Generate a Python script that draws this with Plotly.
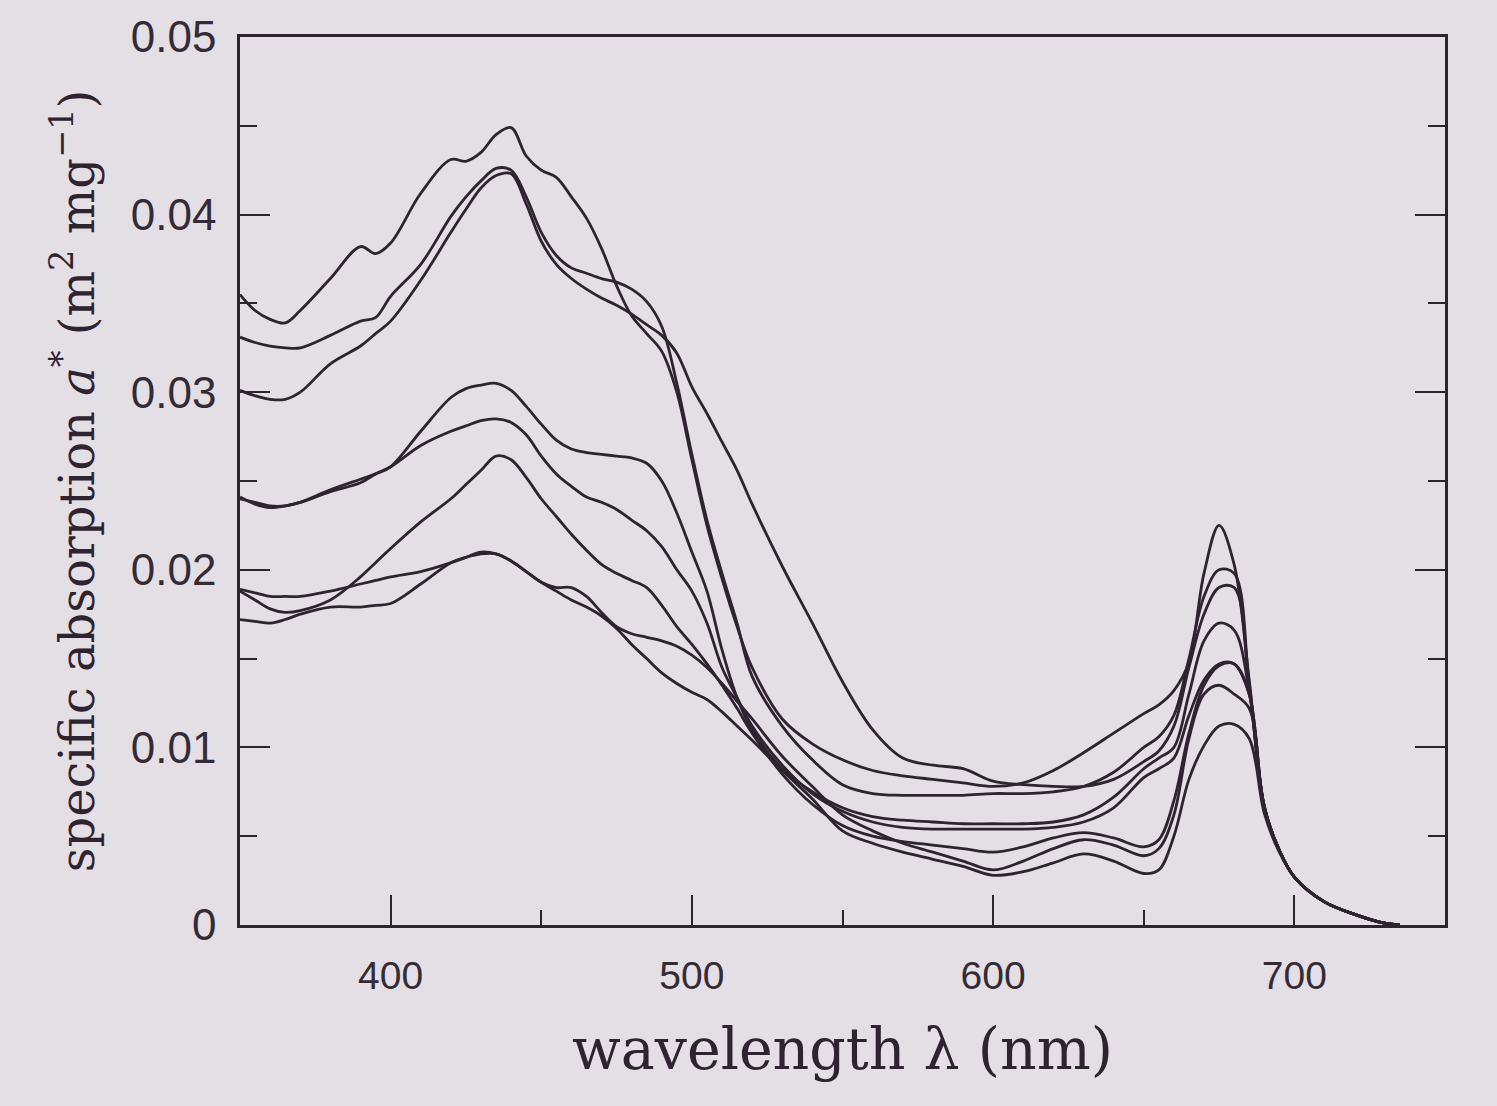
import plotly.graph_objects as go

# wavelength grid (nm)
wavelength = [350, 355, 360, 365, 370, 380, 390, 395, 400, 410, 420, 425, 430, 435,
              440, 445, 450, 455, 460, 465, 470, 475, 480, 485, 490, 495, 500, 505,
              510, 515, 520, 530, 540, 550, 560, 570, 580, 590, 600, 610, 620, 630,
              640, 650, 655, 660, 665, 670, 675, 680, 685, 690, 695, 700, 710, 720,
              730, 735]

# specific absorption a* (m^2 mg^-1), eight spectra
spec_a = [0.0355, 0.0346, 0.0341, 0.0339, 0.0346, 0.0364, 0.0382, 0.0378, 0.0384, 0.0412,
          0.0431, 0.0430, 0.0435, 0.0445, 0.0449, 0.0433, 0.0425, 0.0421, 0.0410, 0.0398,
          0.0381, 0.0360, 0.0343, 0.0333, 0.0323, 0.0300, 0.0262, 0.0225, 0.0195, 0.0168,
          0.0145, 0.0116, 0.0102, 0.0093, 0.0087, 0.0084, 0.0082, 0.0080, 0.0078, 0.0080,
          0.0087, 0.0097, 0.0108, 0.0119, 0.0124, 0.0132, 0.0148, 0.0198, 0.0225, 0.0203,
          0.0138, 0.0067, 0.0042, 0.0027, 0.0013, 0.0006, 0.0001, 0.0]

spec_b = [0.0331, 0.0328, 0.0326, 0.0325, 0.0325, 0.0332, 0.0340, 0.0342, 0.0354, 0.0372,
          0.0399, 0.0410, 0.0419, 0.0426, 0.0425, 0.0410, 0.0390, 0.0377, 0.0370, 0.0367,
          0.0364, 0.0362, 0.0358, 0.0351, 0.0337, 0.0305, 0.0265, 0.0228, 0.0198, 0.0170,
          0.0140, 0.0112, 0.0093, 0.0079, 0.0074, 0.0073, 0.0073, 0.0073, 0.0074, 0.0074,
          0.0075, 0.0078, 0.0086, 0.0100, 0.0106, 0.0118, 0.0150, 0.0185, 0.0200, 0.0198,
          0.0136, 0.0067, 0.0042, 0.0027, 0.0013, 0.0006, 0.0001, 0.0]

spec_c = [0.0301, 0.0298, 0.0296, 0.0296, 0.0300, 0.0316, 0.0326, 0.0333, 0.0340, 0.0363,
          0.0390, 0.0403, 0.0415, 0.0422, 0.0423, 0.0406, 0.0385, 0.0372, 0.0364, 0.0358,
          0.0353, 0.0349, 0.0344, 0.0338, 0.0332, 0.0322, 0.0303, 0.0288, 0.0272, 0.0256,
          0.0237, 0.0202, 0.0170, 0.0137, 0.0110, 0.0094, 0.0090, 0.0088, 0.0081, 0.0079,
          0.0078, 0.0078, 0.0082, 0.0092, 0.0098, 0.0112, 0.0145, 0.0175, 0.0190, 0.0190,
          0.0134, 0.0067, 0.0042, 0.0027, 0.0013, 0.0006, 0.0001, 0.0]

spec_d = [0.0241, 0.0237, 0.0235, 0.0236, 0.0238, 0.0245, 0.0251, 0.0254, 0.0258, 0.0278,
          0.0297, 0.0302, 0.0304, 0.0305, 0.0301, 0.0292, 0.0282, 0.0273, 0.0268, 0.0266,
          0.0265, 0.0264, 0.0263, 0.0260, 0.0250, 0.0232, 0.0210, 0.0188, 0.0155, 0.0128,
          0.0110, 0.0088, 0.0075, 0.0066, 0.0061, 0.0059, 0.0058, 0.0057, 0.0057, 0.0057,
          0.0058, 0.0062, 0.0072, 0.0088, 0.0094, 0.0100, 0.0130, 0.0160, 0.0170, 0.0166,
          0.0132, 0.0066, 0.0042, 0.0027, 0.0013, 0.0006, 0.0001, 0.0]

spec_e = [0.0240, 0.0238, 0.0236, 0.0236, 0.0238, 0.0244, 0.0249, 0.0254, 0.0258, 0.0270,
          0.0278, 0.0281, 0.0284, 0.0285, 0.0283, 0.0276, 0.0264, 0.0254, 0.0247, 0.0241,
          0.0238, 0.0234, 0.0228, 0.0222, 0.0213, 0.0200, 0.0188, 0.0170, 0.0145, 0.0128,
          0.0112, 0.0090, 0.0074, 0.0064, 0.0058, 0.0055, 0.0054, 0.0054, 0.0054, 0.0054,
          0.0055, 0.0058, 0.0066, 0.0083, 0.0088, 0.0094, 0.0118, 0.0138, 0.0147, 0.0147,
          0.0130, 0.0066, 0.0042, 0.0027, 0.0013, 0.0006, 0.0001, 0.0]

spec_f = [0.0188, 0.0183, 0.0178, 0.0176, 0.0177, 0.0183, 0.0196, 0.0204, 0.0212, 0.0227,
          0.0240, 0.0248, 0.0256, 0.0264, 0.0262, 0.0252, 0.0240, 0.0230, 0.0220, 0.0211,
          0.0203, 0.0198, 0.0194, 0.0190, 0.0180, 0.0168, 0.0158, 0.0147, 0.0135, 0.0122,
          0.0108, 0.0085, 0.0068, 0.0056, 0.0050, 0.0047, 0.0045, 0.0043, 0.0041, 0.0044,
          0.0049, 0.0052, 0.0049, 0.0044, 0.0048, 0.0070, 0.0108, 0.0135, 0.0146, 0.0147,
          0.0130, 0.0066, 0.0042, 0.0027, 0.0013, 0.0006, 0.0001, 0.0]

spec_g = [0.0189, 0.0187, 0.0185, 0.0185, 0.0185, 0.0188, 0.0192, 0.0194, 0.0196, 0.0199,
          0.0204, 0.0207, 0.0210, 0.0209, 0.0205, 0.0199, 0.0193, 0.0190, 0.0190, 0.0185,
          0.0176, 0.0168, 0.0164, 0.0162, 0.0160, 0.0157, 0.0152, 0.0145, 0.0136, 0.0126,
          0.0116, 0.0095, 0.0078, 0.0062, 0.0053, 0.0046, 0.0041, 0.0036, 0.0031, 0.0036,
          0.0043, 0.0048, 0.0045, 0.0039, 0.0043, 0.0062, 0.0105, 0.0130, 0.0135, 0.0130,
          0.0122, 0.0065, 0.0042, 0.0027, 0.0013, 0.0006, 0.0001, 0.0]

spec_h = [0.0172, 0.0171, 0.0170, 0.0172, 0.0175, 0.0179, 0.0179, 0.0180, 0.0181, 0.0192,
          0.0204, 0.0207, 0.0209, 0.0209, 0.0205, 0.0199, 0.0193, 0.0188, 0.0183, 0.0179,
          0.0174, 0.0167, 0.0158, 0.0150, 0.0142, 0.0136, 0.0131, 0.0127, 0.0120, 0.0112,
          0.0104, 0.0087, 0.0071, 0.0053, 0.0046, 0.0041, 0.0037, 0.0033, 0.0028, 0.0030,
          0.0035, 0.0040, 0.0036, 0.0029, 0.0031, 0.0050, 0.0082, 0.0101, 0.0112, 0.0113,
          0.0105, 0.0063, 0.0041, 0.0027, 0.0013, 0.0006, 0.0001, 0.0]

x_tick_vals = [400, 500, 600, 700]
y_tick_vals = [0, 0.01, 0.02, 0.03, 0.04, 0.05]
y_tick_text = ["0", "0.01", "0.02", "0.03", "0.04", "0.05"]

INK = "#2e2430"
PAPER = "#e4dee5"

fig = go.Figure()
for spec in [spec_a, spec_b, spec_c, spec_d, spec_e, spec_f, spec_g, spec_h]:
    fig.add_trace(go.Scatter(
        x=wavelength, y=spec, mode="lines",
        line=dict(color=INK, width=2.8, shape="spline", smoothing=1.0),
        showlegend=False, hoverinfo="skip"))

fig.update_layout(
    width=1497, height=1106,
    margin=dict(l=240, r=52, t=37, b=181),
    paper_bgcolor=PAPER, plot_bgcolor=PAPER,
    showlegend=False,
)

fig.update_xaxes(
    range=[350, 750], showgrid=False, zeroline=False,
    showline=True, linecolor=INK, linewidth=2.5, mirror=True,
    ticks="inside", ticklen=30, tickwidth=2, tickcolor=INK,
    tickvals=x_tick_vals, ticktext=[str(v) for v in x_tick_vals],
    tickfont=dict(family="Liberation Sans, Arial", size=39, color="#352b36"),
    ticklabelstandoff=14,
    minor=dict(ticks="inside", ticklen=15, tickwidth=2, tickcolor=INK, dtick=50, tick0=0, showgrid=False),
    title=dict(text="wavelength λ (nm)",
               font=dict(family="DejaVu Serif", size=57, color="#2e2430"),
               standoff=34),
)

fig.update_yaxes(
    range=[0, 0.05], showgrid=False, zeroline=False,
    showline=True, linecolor=INK, linewidth=2.5, mirror="ticks",
    ticks="inside", ticklen=30, tickwidth=2, tickcolor=INK,
    tickvals=y_tick_vals, ticktext=y_tick_text,
    tickfont=dict(family="Liberation Sans, Arial", size=44, color="#352b36"),
    ticklabelstandoff=12,
    minor=dict(ticks="inside", ticklen=17, tickwidth=2, tickcolor=INK, dtick=0.005, tick0=0, showgrid=False),
    title=dict(text="specific absorption <i>a</i><sup>*</sup> (m<sup>2</sup> mg<sup>−1</sup>)",
               font=dict(family="DejaVu Serif", size=48, color="#2e2430"),
               standoff=22),
)

fig.write_html("out.html")
